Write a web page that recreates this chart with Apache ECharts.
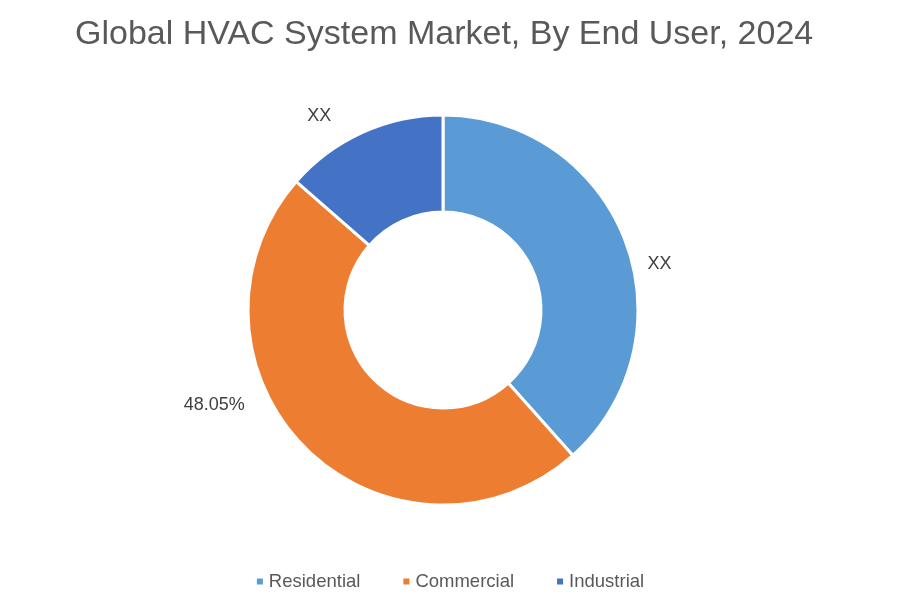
<!DOCTYPE html>
<html>
<head>
<meta charset="utf-8">
<script src="https://cdn.jsdelivr.net/npm/echarts@6/dist/echarts.min.js"></script>
<style>html,body{margin:0;padding:0;background:#fff}#c{width:899px;height:600px}</style>
</head>
<body>
<div id="c"></div>
<script>
var categories = ['Residential', 'Commercial', 'Industrial'];
var values = [38.4, 48.05, 13.55];
var labelTexts = ['XX', '48.05%', 'XX'];
var colors = ['#5B9BD5', '#ED7D31', '#4472C4'];
var labelOffsets = [[8, 27], [-49, -51], [-22, -7]];

var chart = echarts.init(document.getElementById('c'), null, {renderer: 'canvas'});
var FONT = '"Liberation Sans", Arial, sans-serif';
chart.setOption({
  animation: false,
  color: colors,
  title: {
    text: 'Global HVAC System Market, By End User, 2024',
    left: 70, top: 13,
    textStyle: {fontFamily: FONT, fontSize: 34, fontWeight: 'normal', color: '#595959'}
  },
  legend: {
    bottom: 4, left: 'center',
    itemWidth: 8, itemHeight: 8, itemGap: 41,
    icon: 'rect',
    textStyle: {fontFamily: FONT, fontSize: 18.5, color: '#595959'},
    data: categories
  },
  series: [{
    type: 'pie',
    center: [443, 310],
    radius: [98, 195],
    startAngle: 90,
    clockwise: true,
    avoidLabelOverlap: false,
    itemStyle: {borderColor: '#fff', borderWidth: 3},
    label: {
      show: true, position: 'outside',
      fontFamily: FONT, fontSize: 18, color: '#404040',
      formatter: function (p) { return labelTexts[p.dataIndex]; }
    },
    labelLine: {show: false, length: 10, length2: 0},
    emphasis: {disabled: true},
    data: categories.map(function (c, i) {
      return {name: c, value: values[i], label: {offset: labelOffsets[i]}};
    })
  }]
});
</script>
</body>
</html>
